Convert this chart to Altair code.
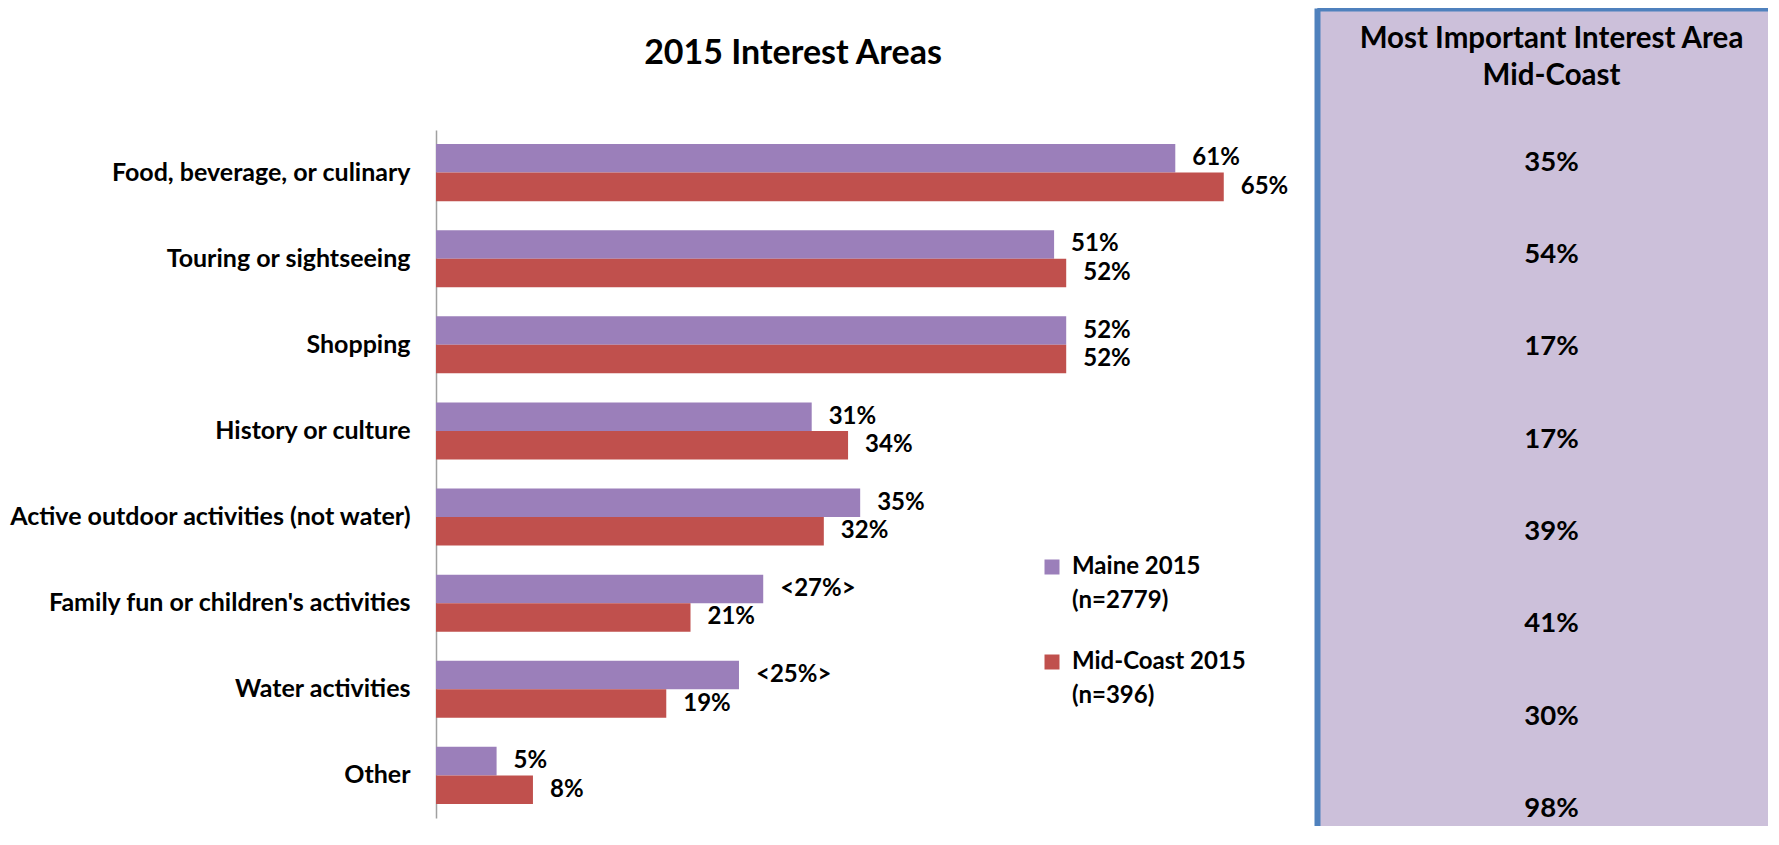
import altair as alt
import pandas as pd

# ---- data ----
categories = [
    "Food, beverage, or culinary",
    "Touring or sightseeing",
    "Shopping",
    "History or culture",
    "Active outdoor activities (not water)",
    "Family fun or children's activities",
    "Water activities",
    "Other",
]
series_names = ["Maine 2015|(n=2779)", "Mid-Coast 2015|(n=396)"]
maine_values = [61, 51, 52, 31, 35, 27, 25, 5]
midcoast_values = [65, 52, 52, 34, 32, 21, 19, 8]
maine_labels = ["61%", "51%", "52%", "31%", "35%", "<27%>", "<25%>", "5%"]
midcoast_labels = ["65%", "52%", "52%", "34%", "32%", "21%", "19%", "8%"]
most_important = ["35%", "54%", "17%", "17%", "39%", "41%", "30%", "98%"]
panel_column = ["Mid-Coast"]
panel_title = ["Most Important Interest Area", "Mid-Coast"]
chart_title = "2015 Interest Areas"
colors = ["#9B7FBA", "#C0504D"]

FONT = "Lato"

rows = []
for s, vals, labs in [
    (series_names[0], maine_values, maine_labels),
    (series_names[1], midcoast_values, midcoast_labels),
]:
    for c, v, l in zip(categories, vals, labs):
        rows.append({"category": c, "series": s, "value": v, "label": l})
df = pd.DataFrame(rows)

# left view spans the full height; the bars' band range sits in its lower part
y_enc = alt.Y(
    "category:N",
    sort=categories,
    scale=alt.Scale(range=[122, 810], paddingInner=0.337, paddingOuter=0.163),
    axis=alt.Axis(
        title=None, ticks=False, grid=False,
        domainColor="#A0A0A0", domainWidth=1.5,
        labelFont=FONT, labelFontSize=25, labelFontWeight="bold",
        labelColor="black", labelPadding=26, labelLimit=700,
    ),
)
yoff_enc = alt.YOffset("series:N", sort=series_names)
x_enc = alt.X("value:Q", scale=alt.Scale(domain=[0, 70.3], nice=False), axis=None)

bars = alt.Chart(df).mark_bar().encode(
    x=x_enc,
    y=y_enc,
    yOffset=yoff_enc,
    color=alt.Color(
        "series:N",
        sort=series_names,
        scale=alt.Scale(domain=series_names, range=colors),
        legend=alt.Legend(
            title=None, orient="none", legendX=604, legendY=547, padding=0,
            symbolType="square", symbolSize=225, symbolStrokeWidth=0,
            labelExpr="split(datum.label, '|')",
            labelFont=FONT, labelFontSize=24, labelFontWeight="bold",
            labelColor="black", labelLimit=400, rowPadding=37, labelOffset=8,
        ),
    ),
)

labels = alt.Chart(df).mark_text(
    align="left", baseline="middle", dx=17,
    font=FONT, fontSize=24, fontWeight="bold", color="black",
).encode(x=x_enc, y=y_enc, yOffset=yoff_enc, text="label:N")

left = alt.layer(bars, labels).properties(
    width=852,
    height=810,
    title=alt.TitleParams(
        chart_title, font=FONT, fontSize=34, fontWeight="bold",
        color="black", anchor="middle", frame="group", dx=-69,
        offset=-63,
    ),
)

panel_df = pd.DataFrame({
    "category": categories,
    "value": most_important,
    "col": panel_column * len(categories),
})

panel = alt.Chart(panel_df).mark_text(
    font=FONT, fontSize=27.5, fontWeight="bold", color="black",
    baseline="middle", dx=9,
).encode(
    x=alt.X("col:N", axis=alt.Axis(orient="top", title=None, labels=False,
                                   ticks=False, grid=False,
                                   domainColor="#4F81BD", domainWidth=6)),
    y=alt.Y("category:N", sort=categories,
            scale=alt.Scale(type="point", padding=0.93, align=0.9),
            axis=alt.Axis(title=None, labels=False, ticks=False, grid=False,
                          domainColor="#4F81BD", domainWidth=6)),
    text="value:N",
).properties(
    width=451,
    height=818,
    view=alt.ViewBackground(fill="#CCC0DA", stroke=None),
    title=alt.TitleParams(
        panel_title, font=FONT, fontSize=29.5, fontWeight="bold", color="black",
        anchor="middle", frame="group", dx=9, baseline="top",
        lineHeight=37, offset=-83,
    ),
)

chart = alt.hconcat(left, panel, spacing=28).properties(
    padding={"left": 0, "top": 0, "right": 0, "bottom": 0},
).configure(
    style={"guide-label": {"lineHeight": 34}},
).configure_view(stroke=None)

chart.save("out.html", embed_options={"renderer": "svg", "actions": False})
